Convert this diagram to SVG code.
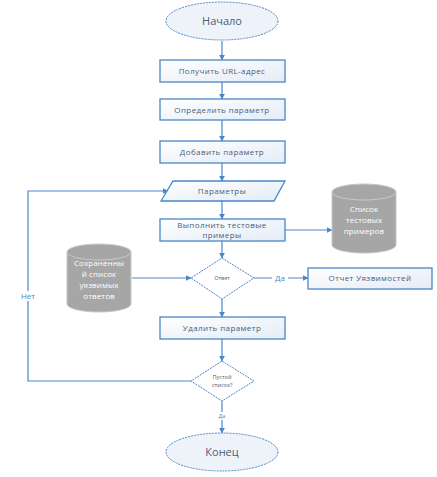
<svg xmlns="http://www.w3.org/2000/svg" width="437" height="477" viewBox="0 0 437 477">
<defs>
<linearGradient id="g" x1="0" y1="0" x2="1" y2="1">
<stop offset="0" stop-color="#ffffff"/>
<stop offset="1" stop-color="#e3ecf7"/>
</linearGradient>
<marker id="a" viewBox="0 0 10 10" refX="9" refY="5" markerWidth="5" markerHeight="5" orient="auto">
<path d="M0,0 L10,5 L0,10 z" fill="#4a86c8"/>
</marker>
<style>
.b{fill:url(#g);stroke:#4a86c8;stroke-width:1.3}
.d{fill:#ffffff;stroke:#4a86c8;stroke-width:1;stroke-dasharray:2,1}
.e{fill:#eef3fa;stroke:#4a86c8;stroke-width:1;stroke-dasharray:2,1}
.c{fill:#a6a6a6;stroke:#c8c8c8;stroke-width:1}
.l{fill:none;stroke:#4a86c8;stroke-width:1.2}
.t{font-family:"Open Sans","Liberation Sans",sans-serif;font-size:8px;fill:#4b5d75;text-anchor:middle;letter-spacing:0.4px}
.w{font-family:"Open Sans","Liberation Sans",sans-serif;font-size:8px;fill:#ffffff;text-anchor:middle;letter-spacing:0.1px}
.s{font-family:"Open Sans","Liberation Sans",sans-serif;font-size:5.5px;fill:#4b5d75;text-anchor:middle}
.k{font-family:"Open Sans","Liberation Sans",sans-serif;font-size:8px;fill:#4a86c8;text-anchor:middle}
.big{font-family:"Open Sans","Liberation Sans",sans-serif;font-size:11px;fill:#4b5d75;text-anchor:middle}
</style>
</defs>
<g id="connectors">
<line class="l" x1="222" y1="41" x2="222" y2="60" marker-end="url(#a)"/>
<line class="l" x1="222" y1="82" x2="222" y2="99" marker-end="url(#a)"/>
<line class="l" x1="222" y1="120" x2="222" y2="141" marker-end="url(#a)"/>
<line class="l" x1="222" y1="163" x2="222" y2="181" marker-end="url(#a)"/>
<line class="l" x1="222" y1="201" x2="222" y2="219" marker-end="url(#a)"/>
<line class="l" x1="222" y1="241" x2="222" y2="258" marker-end="url(#a)"/>
<line class="l" x1="222" y1="299" x2="222" y2="317" marker-end="url(#a)"/>
<line class="l" x1="222" y1="339" x2="222" y2="361" marker-end="url(#a)"/>
<line class="l" x1="222" y1="401" x2="222" y2="433" marker-end="url(#a)"/>
<line class="l" x1="285" y1="230" x2="332" y2="230" marker-end="url(#a)"/>
<line class="l" x1="132" y1="278" x2="191" y2="278" marker-end="url(#a)"/>
<line class="l" x1="254" y1="278" x2="308" y2="278" marker-end="url(#a)"/>
<polyline class="l" points="191,381 28,381 28,191 168,191" marker-end="url(#a)"/>
<rect x="272" y="273" width="16" height="10" fill="#ffffff"/>
<text class="k" x="280" y="281">Да</text>
<rect x="16" y="291" width="24" height="10" fill="#ffffff"/>
<text class="k" x="28" y="299">Нет</text>
<rect x="214" y="412" width="16" height="8" fill="#ffffff"/>
<text class="s" x="222" y="418" style="fill:#4a86c8">Да</text>
</g>
<g id="start">
<ellipse class="e" cx="222" cy="21" rx="56" ry="19"/>
<text class="big" x="222" y="25">Начало</text>
</g>
<g id="get-url">
<rect class="b" x="160" y="60" width="125" height="22"/>
<text class="t" x="222" y="74">Получить URL-адрес</text>
</g>
<g id="define-param">
<rect class="b" x="160" y="99" width="125" height="21"/>
<text class="t" x="222" y="113">Определить параметр</text>
</g>
<g id="add-param">
<rect class="b" x="160" y="141" width="125" height="22"/>
<text class="t" x="222" y="155">Добавить параметр</text>
</g>
<g id="params">
<polygon class="b" points="173,181 285,181 274,201 161,201"/>
<text class="t" x="222" y="194">Параметры</text>
</g>
<g id="run-tests">
<rect class="b" x="160" y="219" width="125" height="22"/>
<text class="t" x="222" y="228">Выполнить тестовые</text>
<text class="t" x="222" y="238">примеры</text>
</g>
<g id="test-list">
<path class="c" d="M332,192 A32,8 0 0 1 396,192 L396,245 A32,8 0 0 1 332,245 Z"/>
<path d="M332,192 A32,8 0 0 0 396,192" fill="none" stroke="#c8c8c8" stroke-width="1"/>
<text class="w" x="364" y="212">Список</text>
<text class="w" x="364" y="223">тестовых</text>
<text class="w" x="364" y="234">примеров</text>
</g>
<g id="saved-list">
<path class="c" d="M67,252 A32,8 0 0 1 131,252 L131,304 A32,8 0 0 1 67,304 Z"/>
<path d="M67,252 A32,8 0 0 0 131,252" fill="none" stroke="#c8c8c8" stroke-width="1"/>
<text class="w" x="99" y="266">Сохраненны</text>
<text class="w" x="99" y="277">й список</text>
<text class="w" x="99" y="288">уязвимых</text>
<text class="w" x="99" y="299">ответов</text>
</g>
<g id="answer">
<polygon class="d" points="222,258 254,278 222,299 191,278"/>
<text class="s" x="222" y="280">Ответ</text>
</g>
<g id="report">
<rect class="b" x="308" y="268" width="124" height="21"/>
<text class="t" x="370" y="281">Отчет Уязвимостей</text>
</g>
<g id="remove-param">
<rect class="b" x="160" y="317" width="125" height="22"/>
<text class="t" x="222" y="331">Удалить параметр</text>
</g>
<g id="empty-list">
<polygon class="d" points="222,361 254,381 222,401 191,381"/>
<text class="s" x="222" y="379">Пустой</text>
<text class="s" x="222" y="387">список?</text>
</g>
<g id="end">
<ellipse class="e" cx="222" cy="452" rx="56" ry="19"/>
<text class="big" x="222" y="456">Конец</text>
</g>
</svg>
